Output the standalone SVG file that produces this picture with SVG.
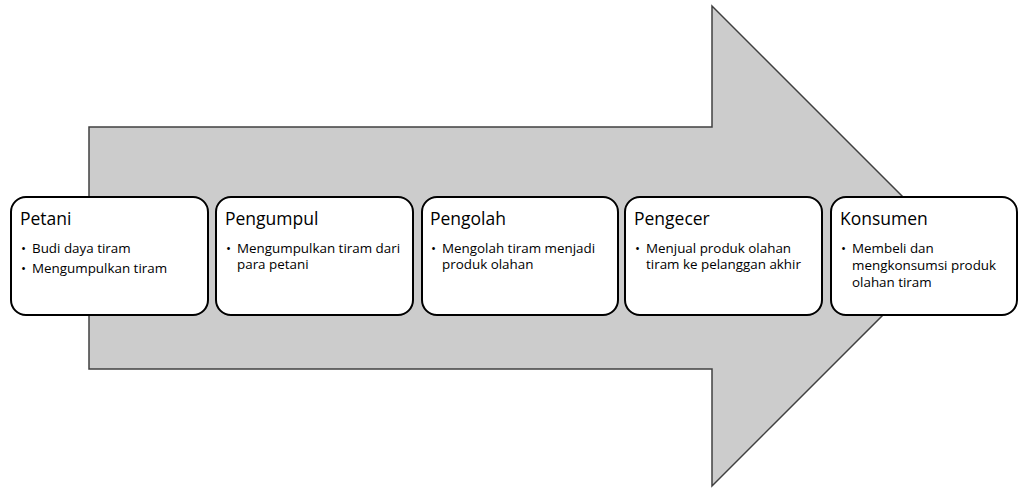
<svg xmlns="http://www.w3.org/2000/svg" width="1019" height="488" viewBox="0 0 1019 488">
<style>
.box{fill:#fff;stroke:#000;stroke-width:2}
.t{font-family:"Open Sans","Liberation Sans",sans-serif;fill:#000}
.h{font-size:17.5px}
.b{font-size:13.4px}
</style>
<rect width="1019" height="488" fill="#fff"/>
<g id="connectors">
<polygon points="89,127 712,127 712,6 952,246 712,486 712,369 89,369" fill="#cccccc" stroke="#404040" stroke-width="1.5"/>
</g>
<g id="petani">
<rect class="box" x="11" y="197" width="197" height="118" rx="15"/>
<text class="t h" x="20" y="225">Petani</text>
<text class="t b" x="21" y="253">•<tspan x="32">Budi daya tiram</tspan><tspan x="21" dy="20">•</tspan><tspan x="32">Mengumpulkan tiram</tspan></text>
</g>
<g id="pengumpul">
<rect class="box" x="216" y="197" width="197" height="118" rx="15"/>
<text class="t h" x="225" y="225">Pengumpul</text>
<text class="t b" x="226" y="253">•<tspan x="237">Mengumpulkan tiram dari</tspan><tspan x="237" dy="16">para petani</tspan></text>
</g>
<g id="pengolah">
<rect class="box" x="422" y="197" width="196" height="118" rx="15"/>
<text class="t h" x="430" y="225">Pengolah</text>
<text class="t b" x="431" y="253">•<tspan x="442">Mengolah tiram menjadi</tspan><tspan x="442" dy="16">produk olahan</tspan></text>
</g>
<g id="pengecer">
<rect class="box" x="625" y="197" width="197" height="118" rx="15"/>
<text class="t h" x="634" y="225">Pengecer</text>
<text class="t b" x="635" y="253">•<tspan x="646">Menjual produk olahan</tspan><tspan x="646" dy="16">tiram ke pelanggan akhir</tspan></text>
</g>
<g id="konsumen">
<rect class="box" x="831" y="197" width="186" height="118" rx="15"/>
<text class="t h" x="840" y="225">Konsumen</text>
<text class="t b" x="841" y="253">•<tspan x="852">Membeli dan</tspan><tspan x="852" dy="17">mengkonsumsi produk</tspan><tspan x="852" dy="17">olahan tiram</tspan></text>
</g>
</svg>
